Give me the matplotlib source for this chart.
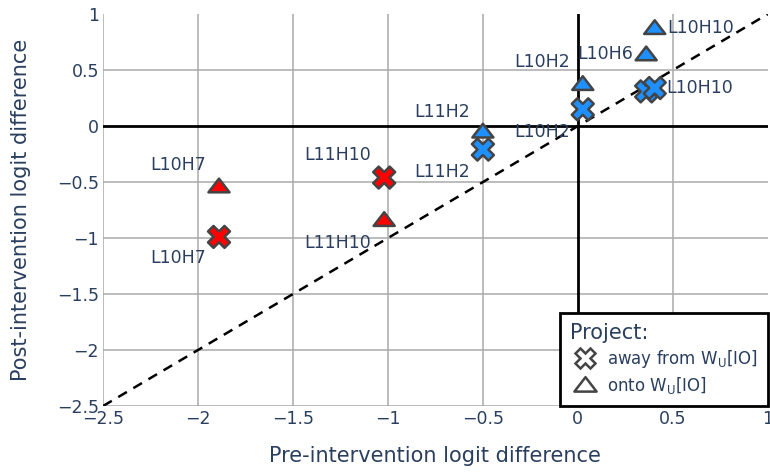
import numpy as np
import matplotlib.pyplot as plt
from matplotlib.lines import Line2D
from matplotlib.path import Path

# Logit differences before / after projecting each head's output
heads = ["L10H7", "L11H10", "L11H2", "L10H2", "L10H6", "L10H10"]
pre = [-1.89, -1.02, -0.50, 0.026, 0.36, 0.405]
post_away = [-0.99, -0.46, -0.21, 0.15, 0.31, 0.34]
post_onto = [-0.54, -0.84, -0.05, 0.375, 0.64, 0.875]
colors = ["red", "red", "dodgerblue", "dodgerblue", "dodgerblue", "dodgerblue"]

# label placement: (dx, dy) in points, horizontal alignment
away_labels = {
    "L10H7": ((-9.5, -15.5), "right"),
    "L11H10": ((-9.5, 16), "right"),
    "L11H2": ((-9.5, -16), "right"),
    "L10H2": ((-9.5, -16.5), "right"),
    "L10H10": ((8.5, 0), "left"),
}
onto_labels = {
    "L10H7": ((-9.5, 15.5), "right"),
    "L11H10": ((-9.5, -16.5), "right"),
    "L11H2": ((-9.5, 14.5), "right"),
    "L10H2": ((-9.5, 16), "right"),
    "L10H6": ((-9.5, 0), "right"),
    "L10H10": ((9, 0), "left"),
}

txt = "#2a3f5f"
edge = "#444444"
# flat, wide triangle
tri = Path([(-1, -0.55), (1, -0.55), (0, 0.75), (-1, -0.55)],
           [Path.MOVETO, Path.LINETO, Path.LINETO, Path.CLOSEPOLY])

fig = plt.figure(figsize=(7.7, 4.72), dpi=100)
ax = fig.add_axes([0.134, 0.140, 0.863, 0.830])

ticks = np.arange(-2.5, 1.01, 0.5)
ax.set_xlim(-2.5, 1)
ax.set_ylim(-2.5, 1)
ax.set_xticks(ticks)
ax.set_yticks(ticks)
labels = [("%g" % t).replace("-", "\u2212") for t in ticks]
ax.set_xticklabels(labels)
ax.set_yticklabels(labels)
ax.tick_params(length=0, labelsize=12.5, colors=txt, pad=3)
for s in ax.spines.values():
    s.set_visible(False)

for t in ticks[:-1]:
    if t != 0:
        ax.axvline(t, color="#aaaaaa", lw=1.1, zorder=0)
        ax.axhline(t, color="#aaaaaa", lw=1.1, zorder=0)
ax.axvline(0, color="black", lw=2, zorder=1)
ax.axhline(0, color="black", lw=2, zorder=1)
ax.plot([-2.5, 1], [-2.5, 1], color="black", ls=(0, (4, 3)), lw=1.8, zorder=2)

ax.scatter(pre, post_away, marker="X", s=250, c=colors, edgecolors=edge,
           linewidths=1.8, zorder=4)
ax.scatter(pre, post_onto, marker=tri, s=230, c=colors, edgecolors=edge,
           linewidths=1.8, zorder=4)

for i, h in enumerate(heads):
    if h in away_labels:
        off, ha = away_labels[h]
        ax.annotate(h, (pre[i], post_away[i]), xytext=off, textcoords="offset points",
                    ha=ha, va="center", fontsize=12.5, color=txt, zorder=5)
    if h in onto_labels:
        off, ha = onto_labels[h]
        ax.annotate(h, (pre[i], post_onto[i]), xytext=off, textcoords="offset points",
                    ha=ha, va="center", fontsize=12.5, color=txt, zorder=5)

ax.set_xlabel("Pre-intervention logit difference", fontsize=15, color=txt, labelpad=13)
ax.set_ylabel("Post-intervention logit difference", fontsize=15, color=txt, labelpad=19)

handles = [
    Line2D([], [], marker="X", ls="", markersize=15, markerfacecolor="white",
           markeredgecolor=edge, markeredgewidth=1.8),
    Line2D([], [], marker=tri, ls="", markersize=16, markerfacecolor="white",
           markeredgecolor=edge, markeredgewidth=1.8),
]
leg = ax.legend(handles, [r"away from W$_\mathrm{U}$[IO]", r"onto W$_\mathrm{U}$[IO]"],
                title="Project:", loc="lower right", bbox_to_anchor=(1.0, 0.0),
                fontsize=12, title_fontsize=15, frameon=True, fancybox=False,
                borderaxespad=0, handletextpad=0.4, labelspacing=0.3,
                borderpad=0.6, handlelength=1.8, labelcolor=txt, framealpha=1)
leg.get_title().set_color(txt)
leg._legend_box.align = "left"
leg.get_frame().set_edgecolor("black")
leg.get_frame().set_linewidth(2)
leg.set_zorder(6)

fig.savefig("out.png", dpi=100)
